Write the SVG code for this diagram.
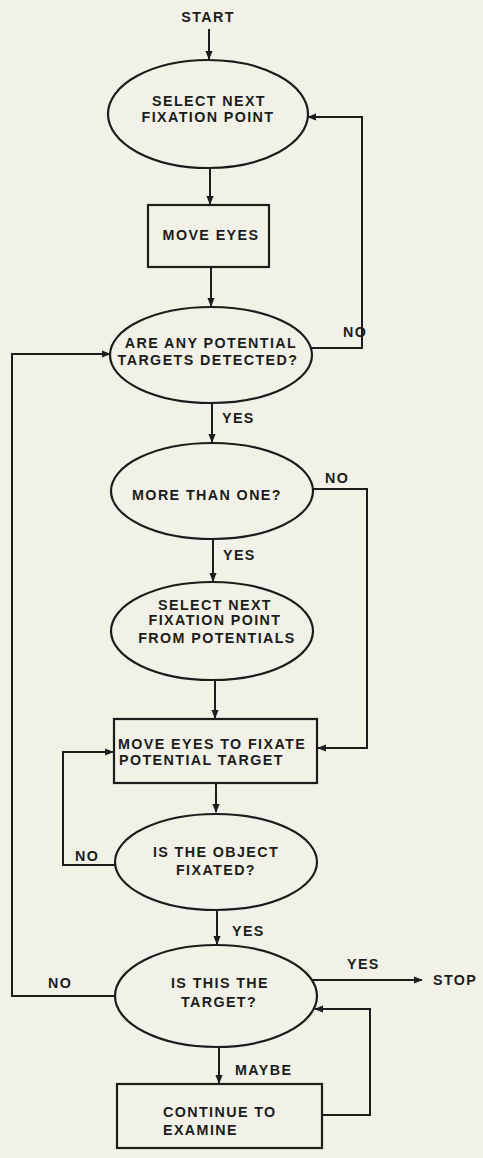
<svg xmlns="http://www.w3.org/2000/svg" width="483" height="1158" viewBox="0 0 483 1158">
<style>
.shape{fill:none;stroke:#1c1c1c;stroke-width:2.2}
.conn{fill:none;stroke:#1c1c1c;stroke-width:2}
text{font-family:"Liberation Sans",Arial,sans-serif;font-weight:bold;font-size:14.3px;fill:#1c1c1c;letter-spacing:1.4px}
.c{text-anchor:middle}
</style>
<defs>
<marker id="ah" viewBox="0 0 10 10" refX="9" refY="5" markerWidth="9" markerHeight="9" markerUnits="userSpaceOnUse" orient="auto">
<path d="M0,1 L10,5 L0,9 z" fill="#1c1c1c"/>
</marker>
</defs>
<rect width="483" height="1158" fill="#f1f1e7"/>
<g id="start"><text x="208" y="22" class="c">START</text></g>
<g id="select1"><ellipse class="shape" cx="208" cy="114" rx="100" ry="54"/><text x="209" y="106" class="c">SELECT NEXT</text><text x="208" y="122" class="c">FIXATION POINT</text></g>
<g id="move1"><rect class="shape" x="148" y="205" width="121" height="62"/><text x="211" y="240" class="c">MOVE EYES</text></g>
<g id="detected"><ellipse class="shape" cx="211" cy="355" rx="101" ry="48"/><text x="211" y="348" class="c">ARE ANY POTENTIAL</text><text x="208" y="365" class="c">TARGETS DETECTED?</text></g>
<g id="morethan"><ellipse class="shape" cx="212" cy="491" rx="101" ry="48"/><text x="207" y="500" class="c">MORE THAN ONE?</text></g>
<g id="select2"><ellipse class="shape" cx="212" cy="631" rx="101" ry="49"/><text x="215" y="610" class="c">SELECT NEXT</text><text x="215" y="625" class="c">FIXATION POINT</text><text x="217" y="643" class="c">FROM POTENTIALS</text></g>
<g id="move2"><rect class="shape" x="114" y="719" width="203" height="64"/><text x="118" y="749">MOVE EYES TO FIXATE</text><text x="119" y="765">POTENTIAL TARGET</text></g>
<g id="fixated"><ellipse class="shape" cx="216" cy="862" rx="101" ry="48"/><text x="216" y="857" class="c">IS THE OBJECT</text><text x="216" y="875" class="c">FIXATED?</text></g>
<g id="target"><ellipse class="shape" cx="216" cy="996" rx="101" ry="51"/><text x="220" y="988" class="c">IS THIS THE</text><text x="219" y="1007" class="c">TARGET?</text></g>
<g id="stop"><text x="433" y="985">STOP</text></g>
<g id="continue"><rect class="shape" x="117" y="1084" width="205" height="64"/><text x="163" y="1117">CONTINUE TO</text><text x="163" y="1135">EXAMINE</text></g>
<g id="connectors">
<path class="conn" d="M209,29 V59" marker-end="url(#ah)"/>
<path class="conn" d="M210,168 V204" marker-end="url(#ah)"/>
<path class="conn" d="M211,267 V306" marker-end="url(#ah)"/>
<path class="conn" d="M311,348 H362 V117 H308" marker-end="url(#ah)"/>
<path class="conn" d="M212,403 V442" marker-end="url(#ah)"/>
<path class="conn" d="M313,489 H367 V748 H318" marker-end="url(#ah)"/>
<path class="conn" d="M213,539 V581" marker-end="url(#ah)"/>
<path class="conn" d="M215,680 V718" marker-end="url(#ah)"/>
<path class="conn" d="M216,783 V812" marker-end="url(#ah)"/>
<path class="conn" d="M116,865 H63 V752 H113" marker-end="url(#ah)"/>
<path class="conn" d="M217,910 V944" marker-end="url(#ah)"/>
<path class="conn" d="M312,980 H422" marker-end="url(#ah)"/>
<path class="conn" d="M116,996 H12 V354 H110" marker-end="url(#ah)"/>
<path class="conn" d="M219,1047 V1083" marker-end="url(#ah)"/>
<path class="conn" d="M322,1115 H370 V1009 H315" marker-end="url(#ah)"/>
<text x="343" y="337">NO</text>
<text x="222" y="423">YES</text>
<text x="325" y="483">NO</text>
<text x="223" y="560">YES</text>
<text x="75" y="861">NO</text>
<text x="232" y="936">YES</text>
<text x="347" y="969">YES</text>
<text x="48" y="988">NO</text>
<text x="235" y="1075">MAYBE</text>
</g>
</svg>
